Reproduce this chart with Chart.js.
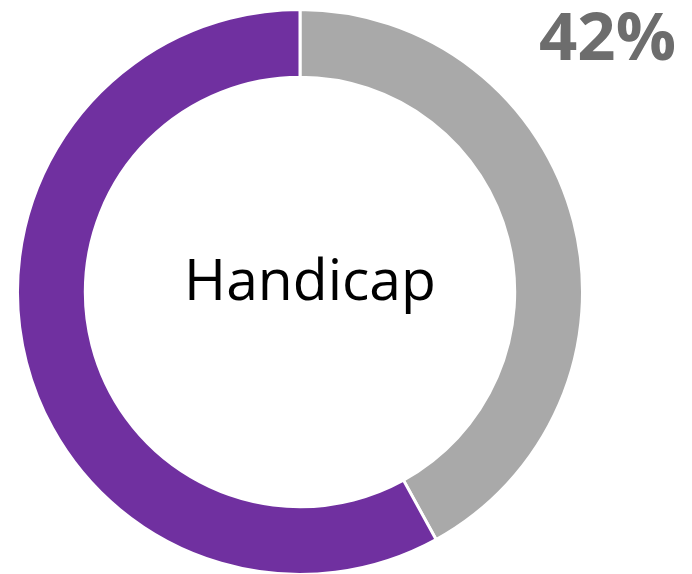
<!DOCTYPE html>
<html>
<head>
<meta charset="utf-8">
<script src="https://cdn.jsdelivr.net/npm/chart.js@4"></script>
<style>
  html, body { margin: 0; padding: 0; background: #fff; }
  body { width: 692px; height: 574px; position: relative; overflow: hidden; }
  #wrap { position: absolute; left: 16px; top: 8px; width: 568px; height: 568px; }
  #centerLabel {
    position: absolute; left: 310px; top: 278px; transform: translate(-50%, -50%);
    font-family: "Open Sans", sans-serif; font-size: 57px; color: #000; white-space: nowrap;
  }
  #pctLabel {
    position: absolute; right: 16px; top: 1px;
    font-family: "Open Sans", sans-serif; font-weight: 700; font-size: 67px; color: #6d6d6d;
    line-height: 1;
  }
</style>
</head>
<body>
<div id="wrap"><canvas id="chart" width="568" height="568"></canvas></div>
<div id="centerLabel"></div>
<div id="pctLabel"></div>
<script>
const categories = ['Handicap', 'Autres'];
const values = [42, 58];
const colors = ['#a9a9a9', '#7030a0'];

document.getElementById('centerLabel').textContent = categories[0];
document.getElementById('pctLabel').textContent = values[0] + '%';

const ctx = document.getElementById('chart').getContext('2d');
new Chart(ctx, {
    type: 'doughnut',
    data: {
        labels: categories,
        datasets: [{
            data: values,
            backgroundColor: colors,
            borderColor: '#ffffff',
            borderWidth: 3
        }]
    },
    options: {
        responsive: false,
        animation: false,
        cutout: '76%',
        plugins: {
            legend: { display: false },
            tooltip: { enabled: false }
        }
    }
});
</script>
</body>
</html>
